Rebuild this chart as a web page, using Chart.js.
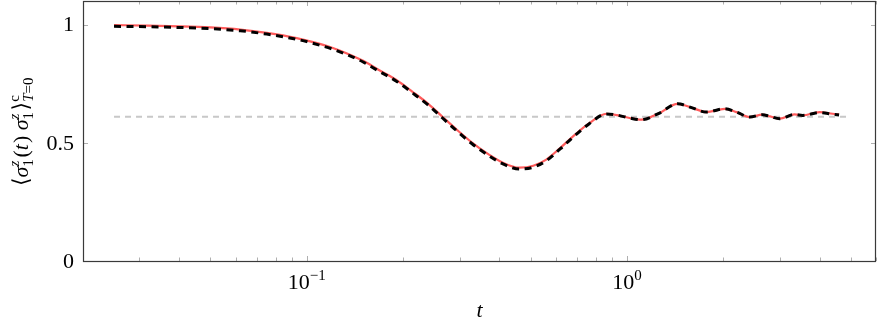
<!DOCTYPE html>
<html>
<head>
<meta charset="utf-8">
<script src="https://cdn.jsdelivr.net/npm/chart.js@4"></script>
<style>
  html, body { margin: 0; padding: 0; background: #fff; }
  #wrap { width: 877px; height: 326px; }
</style>
</head>
<body>
<div id="wrap"><canvas id="chart"></canvas></div>
<script>
// time values t (log axis)
const tValues = [0.025, 0.032, 0.04, 0.05, 0.062, 0.075, 0.093, 0.104, 0.12, 0.133,
  0.15, 0.168, 0.19, 0.214, 0.24, 0.265, 0.295, 0.329, 0.372, 0.41,
  0.461, 0.51, 0.56, 0.62, 0.675, 0.763, 0.863, 0.947, 1.02, 1.11,
  1.26, 1.44, 1.6, 1.77, 2.02, 2.2, 2.42, 2.65, 2.8, 3.0,
  3.34, 3.54, 4.0, 4.39, 4.6];
// red solid curve
const exactValues = [0.998, 0.996, 0.993, 0.988, 0.979, 0.965, 0.943, 0.927, 0.902, 0.879,
  0.847, 0.808, 0.767, 0.716, 0.664, 0.611, 0.554, 0.500, 0.449, 0.416,
  0.395, 0.403, 0.429, 0.479, 0.524, 0.583, 0.623, 0.615, 0.605, 0.598,
  0.625, 0.665, 0.648, 0.630, 0.644, 0.630, 0.609, 0.619, 0.612, 0.602,
  0.620, 0.616, 0.630, 0.623, 0.620];
// black dashed curve
const approxValues = [0.993, 0.991, 0.988, 0.983, 0.974, 0.960, 0.938, 0.922, 0.897, 0.874,
  0.842, 0.803, 0.762, 0.711, 0.659, 0.606, 0.549, 0.495, 0.444, 0.411,
  0.389, 0.397, 0.424, 0.475, 0.521, 0.581, 0.622, 0.615, 0.605, 0.598,
  0.625, 0.665, 0.648, 0.630, 0.644, 0.630, 0.609, 0.619, 0.612, 0.602,
  0.620, 0.616, 0.628, 0.621, 0.618];
// gray dashed reference level
const plateauT = [0.025, 5];
const plateauValue = 0.61;

const xTickValues = [0.1, 1];
const xTickLabels = [['10', '\u22121'], ['10', '0']];
const yTickValues = [0, 0.5, 1];
const yTickLabels = ['0', '0.5', '1'];

const serif = '"Liberation Serif", "DejaVu Serif", serif';
const frameColor = '#3a3a3a';
const tickColor = '#9a9a9a';

function drawRuns(ctx, runs, cx, cy) {
  // measure first so the whole thing can be centred
  let total = 0;
  runs.forEach(r => {
    if (r.sup !== undefined) {
      ctx.font = r.supFont; const a = ctx.measureText(r.sup).width;
      let b = 0;
      r.sub.forEach(s => { ctx.font = s.f; b += ctx.measureText(s.t).width; });
      r.w = Math.max(a, b) + 1.5;
    } else {
      ctx.font = r.f; r.w = ctx.measureText(r.t).width + (r.pad || 0);
    }
    total += r.w;
  });
  let x = cx - total / 2;
  ctx.textBaseline = 'alphabetic';
  ctx.textAlign = 'left';
  runs.forEach(r => {
    if (r.sup !== undefined) {
      ctx.font = r.supFont; ctx.fillText(r.sup, x, cy - 9);
      let sx = x;
      r.sub.forEach(s => { ctx.font = s.f; ctx.fillText(s.t, sx, cy + 5); sx += ctx.measureText(s.t).width; });
    } else {
      ctx.font = r.f; ctx.fillText(r.t, x, cy);
    }
    x += r.w;
  });
}

const rm = '22px ' + serif;
const it = 'italic 22px ' + serif;
const srm = '15px ' + serif;
const sit = 'italic 15px ' + serif;
const yTitleRuns = [
  { t: '\u27E8', f: rm }, { t: '\u03C3', f: it }, { sup: 'z', supFont: sit, sub: [{ t: '1', f: srm }] },
  { t: '(', f: rm }, { t: 't', f: it, pad: 1 }, { t: ')', f: rm }, { t: ' ', f: rm },
  { t: '\u03C3', f: it }, { sup: 'z', supFont: sit, sub: [{ t: '1', f: srm }] },
  { t: '\u27E9', f: rm }, { sup: 'c', supFont: srm, sub: [{ t: 'T', f: sit }, { t: '=0', f: srm }] }
];

const decor = {
  id: 'decor',
  beforeDatasetsDraw(chart) {
    const { ctx, chartArea: a, scales: { x, y } } = chart;
    ctx.save();
    ctx.strokeStyle = tickColor;
    ctx.lineWidth = 0.8;
    // x ticks, major and minor, bottom and top, pointing inward
    for (let d = -2; d <= 0; d++) {
      for (let m = 1; m <= 9; m++) {
        const v = m * Math.pow(10, d);
        if (v < x.min || v > x.max) continue;
        const px = Math.round(x.getPixelForValue(v)) + 0.5;
        const len = m === 1 ? 5 : 3.5;
        ctx.beginPath();
        ctx.moveTo(px, a.bottom); ctx.lineTo(px, a.bottom - len);
        ctx.moveTo(px, a.top); ctx.lineTo(px, a.top + len);
        ctx.stroke();
      }
    }
    yTickValues.forEach(v => {
      const py = Math.round(y.getPixelForValue(v)) + 0.5;
      ctx.beginPath();
      ctx.moveTo(a.left, py); ctx.lineTo(a.left + 5, py);
      ctx.moveTo(a.right, py); ctx.lineTo(a.right - 5, py);
      ctx.stroke();
    });
    ctx.restore();
  },
  afterDraw(chart) {
    const { ctx, chartArea: a, scales: { x, y } } = chart;
    ctx.save();
    ctx.strokeStyle = frameColor;
    ctx.lineWidth = 1.2;
    ctx.strokeRect(a.left + 0.5, a.top + 0.5, a.right - a.left - 1, a.bottom - a.top);
    ctx.fillStyle = '#000';
    // y tick labels
    ctx.font = rm;
    ctx.textAlign = 'right'; ctx.textBaseline = 'middle';
    yTickValues.forEach((v, i) => ctx.fillText(yTickLabels[i], a.left - 9, y.getPixelForValue(v) + 1));
    // x tick labels with superscript exponent
    xTickValues.forEach((v, i) => {
      const [base, exp] = xTickLabels[i];
      ctx.font = rm; const bw = ctx.measureText(base).width;
      ctx.font = srm; const ew = ctx.measureText(exp).width;
      const px = x.getPixelForValue(v);
      let sx = px - (bw + ew) / 2;
      ctx.textAlign = 'left'; ctx.textBaseline = 'alphabetic';
      ctx.font = rm; ctx.fillText(base, sx, 289);
      ctx.font = srm; ctx.fillText(exp, sx + bw, 280);
    });
    // axis titles
    ctx.font = it;
    ctx.textAlign = 'center';
    ctx.fillText('t', (a.left + a.right) / 2, 317);
    ctx.translate(28, (a.top + a.bottom) / 2);
    ctx.rotate(-Math.PI / 2);
    drawRuns(ctx, yTitleRuns, 0, 0);
    ctx.restore();
  }
};

const toPoints = (ts, vs) => ts.map((t, i) => ({ x: t, y: vs[i] }));

new Chart(document.getElementById('chart'), {
  type: 'line',
  data: {
    datasets: [
      {
        label: 'plateau',
        data: plateauT.map(t => ({ x: t, y: plateauValue })),
        borderColor: '#c8c8c8',
        borderWidth: 2,
        borderDash: [6, 5],
        pointRadius: 0,
        order: 3
      },
      {
        label: 'exact',
        data: toPoints(tValues, exactValues),
        borderColor: '#ff5c5c',
        borderWidth: 2.2,
        pointRadius: 0,
        cubicInterpolationMode: 'monotone',
        order: 2
      },
      {
        label: 'approx',
        data: toPoints(tValues, approxValues),
        borderColor: '#000000',
        borderWidth: 3,
        borderDash: [7, 5.5],
        pointRadius: 0,
        cubicInterpolationMode: 'monotone',
        order: 1
      }
    ]
  },
  options: {
    responsive: true,
    maintainAspectRatio: false,
    animation: false,
    layout: { padding: { top: 1, right: 1, left: 0, bottom: 0 } },
    plugins: { legend: { display: false }, tooltip: { enabled: false } },
    scales: {
      x: {
        type: 'logarithmic',
        min: 0.02,
        max: 6,
        afterBuildTicks: s => { s.ticks = xTickValues.map(v => ({ value: v })); },
        afterFit: s => { s.height = 65; },
        grid: { display: false },
        border: { display: false },
        ticks: { display: false }
      },
      y: {
        min: 0,
        max: 1.1,
        afterBuildTicks: s => { s.ticks = yTickValues.map(v => ({ value: v })); },
        afterFit: s => { s.width = 83; },
        grid: { display: false, drawTicks: false },
        border: { display: false },
        ticks: { display: false }
      }
    }
  },
  plugins: [decor]
});
</script>
</body>
</html>
